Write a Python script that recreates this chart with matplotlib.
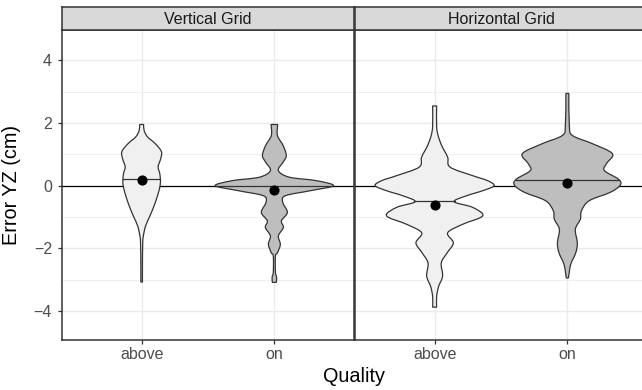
# Error YZ by grid orientation and quality, drawn as ggplot-style violins
import matplotlib.pyplot as plt
import numpy as np
from matplotlib.path import Path
from matplotlib.patches import PathPatch

plt.rcParams['font.family'] = ['Liberation Sans', 'DejaVu Sans']

panels = ['Vertical Grid', 'Horizontal Grid']
qualities = ['above', 'on']
fills = {'above': '#F0F0F0', 'on': '#BEBEBE'}

# density outlines: error levels (cm) and violin half-widths (x units)
vert_above_y = [1.95, 1.75, 1.55, 1.39, 1.2, 1.05, 0.85, 0.6, 0.4, 0.2, 0.0,
                -0.3, -0.64, -0.96, -1.28, -1.6, -1.85, -2.5, -3.07]
vert_above_w = [0.015, 0.019, 0.045, 0.090, 0.132, 0.151, 0.143, 0.124, 0.136,
                0.141, 0.139, 0.121, 0.094, 0.063, 0.030, 0.013, 0.008, 0.006, 0.006]

vert_on_y = [1.95, 1.6, 1.28, 0.96, 0.75, 0.48, 0.27, 0.16, 0.0, -0.16, -0.32,
             -0.53, -0.85, -1.12, -1.33, -1.6, -1.87, -2.14, -2.24, -2.75, -2.92, -3.08]
vert_on_w = [0.025, 0.023, 0.066, 0.090, 0.066, 0.030, 0.113, 0.317, 0.445, 0.271,
             0.083, 0.063, 0.098, 0.053, 0.068, 0.030, 0.045, 0.023, 0.008, 0.008,
             0.017, 0.015]

horiz_above_y = [2.54, 1.9, 1.6, 1.28, 0.91, 0.59, 0.32, 0.16, 0.0, -0.16, -0.32,
                 -0.51, -0.69, -0.96, -1.23, -1.5, -1.82, -2.14, -2.46, -2.88,
                 -3.21, -3.53, -3.87]
horiz_above_w = [0.015, 0.015, 0.026, 0.053, 0.098, 0.117, 0.286, 0.399, 0.448,
                 0.362, 0.241, 0.147, 0.286, 0.362, 0.211, 0.098, 0.141, 0.094,
                 0.050, 0.060, 0.030, 0.015, 0.015]

horiz_on_y = [2.94, 1.92, 1.6, 1.34, 1.02, 0.7, 0.48, 0.21, 0.02, -0.21, -0.48,
              -0.8, -1.07, -1.39, -1.82, -2.14, -2.51, -2.94]
horiz_on_w = [0.011, 0.015, 0.038, 0.188, 0.339, 0.294, 0.279, 0.384, 0.399,
              0.324, 0.164, 0.106, 0.098, 0.060, 0.075, 0.063, 0.025, 0.008]

profiles = {
    ('Vertical Grid', 'above'): (vert_above_y, vert_above_w),
    ('Vertical Grid', 'on'): (vert_on_y, vert_on_w),
    ('Horizontal Grid', 'above'): (horiz_above_y, horiz_above_w),
    ('Horizontal Grid', 'on'): (horiz_on_y, horiz_on_w),
}
means = {
    ('Vertical Grid', 'above'): 0.18,
    ('Vertical Grid', 'on'): -0.13,
    ('Horizontal Grid', 'above'): -0.61,
    ('Horizontal Grid', 'on'): 0.10,
}
medians = {
    ('Vertical Grid', 'above'): 0.20,
    ('Vertical Grid', 'on'): 0.0,
    ('Horizontal Grid', 'above'): -0.50,
    ('Horizontal Grid', 'on'): 0.18,
}


def smooth_side(pts):
    # Catmull-Rom through the outline points as cubic bezier segments
    verts, codes = [], []
    n = len(pts)
    for i in range(n - 1):
        p0 = pts[max(i - 1, 0)]
        p1, p2 = pts[i], pts[i + 1]
        p3 = pts[min(i + 2, n - 1)]
        c1 = p1 + (p2 - p0) / 6.0
        c2 = p2 - (p3 - p1) / 6.0
        verts += [tuple(c1), tuple(c2), tuple(p2)]
        codes += [Path.CURVE4] * 3
    return verts, codes


def violin(ax, x0, ys, ws, fill):
    ys = np.asarray(ys)
    ws = np.asarray(ws)
    right = np.column_stack([x0 + ws, ys])
    left = np.column_stack([x0 - ws, ys])[::-1]
    verts = [tuple(right[0])]
    codes = [Path.MOVETO]
    v, c = smooth_side(right)
    verts += v
    codes += c
    verts.append(tuple(left[0]))
    codes.append(Path.LINETO)
    v, c = smooth_side(left)
    verts += v
    codes += c
    verts.append(tuple(right[0]))
    codes.append(Path.CLOSEPOLY)
    patch = PathPatch(Path(verts, codes), facecolor=fill, edgecolor='#333333',
                      lw=0.9, zorder=3)
    ax.add_patch(patch)


fig = plt.figure(figsize=(6.42, 3.90), dpi=100)
W, H = 642.0, 390.0
top_px, bot_px = 30.3, 339.5
panel_w = 292.0
lefts = [62.0, 355.0]

for k, (panel, left_px) in enumerate(zip(panels, lefts)):
    ax = fig.add_axes([left_px / W, 1 - bot_px / H, panel_w / W, (bot_px - top_px) / H])
    ax.set_xlim(0.4, 2.6)
    ax.set_ylim(-4.9, 4.95)
    ax.set_xticks([1, 2])
    ax.set_xticklabels(qualities)
    ax.set_yticks([-4, -2, 0, 2, 4])
    ax.set_yticks([-3, -1, 1, 3], minor=True)
    ax.set_yticklabels(['\u22124', '\u22122', '0', '2', '4'])
    ax.grid(which='major', color='#EBEBEB', lw=1.0, zorder=0)
    ax.grid(which='minor', axis='y', color='#EBEBEB', lw=0.55, zorder=0)
    ax.set_axisbelow(True)
    for s in ax.spines.values():
        s.set_color('#333333')
        s.set_linewidth(1.1)
        s.set_zorder(6)
    ax.tick_params(which='major', length=3.2, width=0.9, color='#333333',
                   labelcolor='#4D4D4D', labelsize=11.5)
    ax.tick_params(axis='x', pad=2.5)
    ax.tick_params(axis='y', pad=4)
    ax.tick_params(which='minor', length=0)
    if k > 0:
        ax.tick_params(axis='y', which='both', left=False, labelleft=False)

    ax.axhline(0, color='black', lw=0.9, zorder=2)

    for i, q in enumerate(qualities):
        x0 = i + 1
        ys, ws = profiles[(panel, q)]
        violin(ax, x0, ys, ws, fills[q])
        med = medians[(panel, q)]
        half = np.interp(med, ys[::-1], ws[::-1])
        ax.plot([x0 - half, x0 + half], [med, med], color='#333333', lw=0.9, zorder=4)
        ax.plot(x0, means[(panel, q)], 'o', color='black', ms=6.3, zorder=5)

    # facet strip
    sx = fig.add_axes([left_px / W, 1 - top_px / H, panel_w / W, 23.3 / H])
    sx.set_facecolor('#D9D9D9')
    sx.set_xticks([])
    sx.set_yticks([])
    for s in sx.spines.values():
        s.set_color('#333333')
        s.set_linewidth(1.1)
    sx.text(0.5, 0.47, panel, ha='center', va='center', fontsize=11.5,
            color='#1A1A1A', transform=sx.transAxes)

fig.text(12 / W, 1 - 184.9 / H, 'Error YZ (cm)', rotation=90, ha='center',
         va='center', fontsize=14.3)
fig.text(354 / W, 1 - 381.7 / H, 'Quality', ha='center', va='baseline', fontsize=14.3)

fig.savefig('out.png', dpi=100)
